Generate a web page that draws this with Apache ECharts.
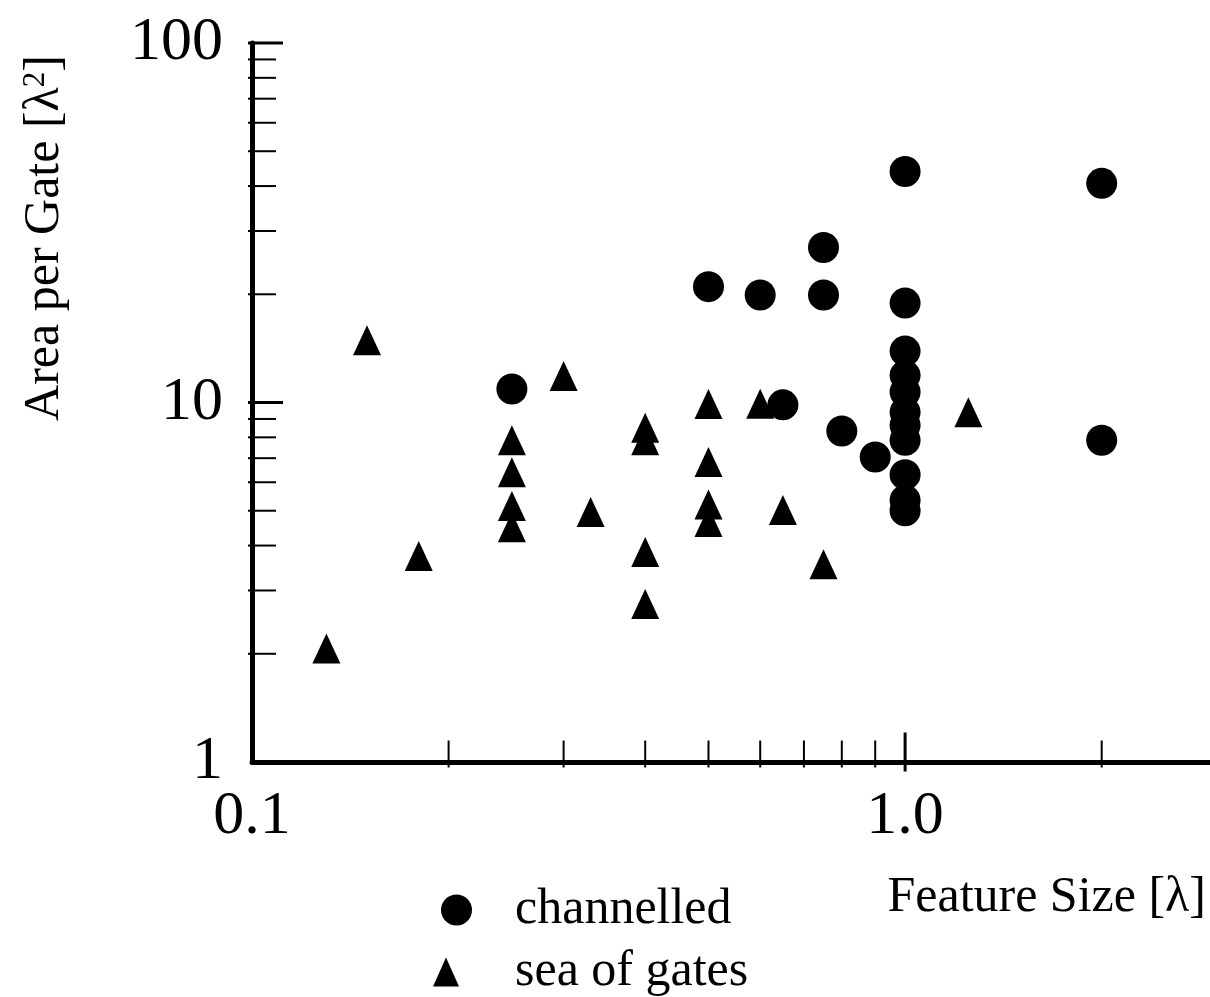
<!DOCTYPE html>
<html>
<head>
<meta charset="utf-8">
<script src="https://cdn.jsdelivr.net/npm/echarts@6/dist/echarts.min.js"></script>
<style>
html,body{margin:0;padding:0;background:#fff;}
#chart{width:1210px;height:997px;}
</style>
</head>
<body>
<div id="chart"></div>
<script>
// ---- data ----
const channelledX = [0.25, 0.5, 0.6, 0.65, 0.75, 0.75, 0.8, 0.9, 1.0, 1.0, 1.0, 1.0, 1.0, 1.0, 1.0, 1.0, 1.0, 1.0, 1.0, 2.0, 2.0];
const channelledY = [10.9, 21.0, 19.9, 9.85, 27.0, 19.9, 8.33, 7.05, 43.9, 18.9, 13.9, 11.9, 10.7, 9.4, 8.65, 7.85, 6.3, 5.35, 5.0, 40.7, 7.85];
const seaX = [0.13, 0.15, 0.18, 0.25, 0.25, 0.25, 0.25, 0.3, 0.33, 0.4, 0.4, 0.4, 0.4, 0.5, 0.5, 0.5, 0.5, 0.6, 0.65, 0.75, 1.25];
const seaY = [2.07, 14.9, 3.74, 7.85, 6.4, 5.15, 4.5, 11.85, 4.96, 8.5, 7.85, 3.84, 2.75, 9.9, 6.83, 5.2, 4.65, 9.92, 5.02, 3.55, 9.4];

const xMinorTicks = [0.2, 0.3, 0.4, 0.5, 0.6, 0.7, 0.8, 0.9, 2];
const xMajorTicks = [1];
const yMinorTicks = [2, 3, 4, 5, 6, 7, 8, 9, 20, 30, 40, 50, 60, 70, 80, 90];
const yMajorTicks = [10, 100];
const xTickLabels = {'0.1': '0.1', '1': '1.0'};
const yTickLabels = {'1': '1', '10': '10', '100': '100'};

const seriesNames = ['channelled', 'sea of gates'];
const xName = 'Feature Size [λ]';
const yName = 'Area per Gate [λ{sup|2}]';

const X_MIN = 0.1, X_MAX = 2.93, Y_MIN = 1, Y_MAX = 100;
const FONT = '"Liberation Serif", "Times New Roman", serif';

const zip = (a, b) => a.map((v, i) => [v, b[i]]);
function labelKey(v) {
  const r = Math.round(v * 1000) / 1000;
  return String(r);
}
const solid = {color: '#000', opacity: 1};

const chart = echarts.init(document.getElementById('chart'), null, {renderer: 'canvas'});
const option = {
  animation: false,
  backgroundColor: '#fff',
  grid: {left: 252, right: 0, top: 43, bottom: 235, containLabel: false},
  xAxis: {
    type: 'log', min: X_MIN, max: X_MAX, logBase: 10,
    axisLine: {show: true, lineStyle: {color: '#000', width: 5}},
    axisTick: {show: false},
    splitLine: {show: false},
    axisLabel: {
      margin: 24, color: '#000', fontFamily: FONT, fontSize: 62,
      showMaxLabel: false,
      formatter: v => xTickLabels[labelKey(v)] || ''
    }
  },
  yAxis: {
    type: 'log', min: Y_MIN, max: Y_MAX, logBase: 10,
    axisLine: {show: true, lineStyle: {color: '#000', width: 5}},
    axisTick: {show: false},
    splitLine: {show: false},
    axisLabel: {
      margin: 29, color: '#000', fontFamily: FONT, fontSize: 62,
      formatter: v => yTickLabels[labelKey(v)] || ''
    }
  },
  legend: [
    {
      data: [{name: seriesNames[0], icon: 'circle', itemStyle: solid}],
      left: 436, top: 880, itemWidth: 31, itemHeight: 31,
      selectedMode: false,
      textStyle: {color: '#000', fontFamily: FONT, fontSize: 50, padding: [0, 0, 0, 38]}
    },
    {
      data: [{name: seriesNames[1], icon: 'triangle', itemStyle: solid}],
      left: 428, top: 942, itemWidth: 26, itemHeight: 29,
      selectedMode: false,
      textStyle: {color: '#000', fontFamily: FONT, fontSize: 50, padding: [0, 0, 0, 51]}
    }
  ],
  graphic: [
    {
      type: 'text', x: 45, y: 238, rotation: Math.PI / 2,
      style: {
        text: yName, fill: '#000', fontFamily: FONT, fontSize: 50,
        align: 'center', verticalAlign: 'middle',
        rich: {sup: {fontSize: 31, fontFamily: FONT, fill: '#000', verticalAlign: 'top', padding: [0, 0, 16, 0]}}
      }
    },
    {
      type: 'text', x: 1206, y: 898,
      style: {text: xName, fill: '#000', fontFamily: FONT, fontSize: 50, align: 'right', verticalAlign: 'middle'}
    }
  ],
  series: [
    {
      name: 'xMinorTicks', type: 'scatter', silent: true, clip: false, z: 1,
      symbol: 'rect', symbolSize: [2, 27], symbolOffset: [0, -8],
      itemStyle: solid,
      data: xMinorTicks.map(v => [v, Y_MIN])
    },
    {
      name: 'xMajorTicks', type: 'scatter', silent: true, clip: false, z: 1,
      symbol: 'rect', symbolSize: [3, 39], symbolOffset: [0, -10],
      itemStyle: solid,
      data: xMajorTicks.map(v => [v, Y_MIN])
    },
    {
      name: 'yMinorTicks', type: 'scatter', silent: true, clip: false, z: 1,
      symbol: 'rect', symbolSize: [28, 2], symbolOffset: [10, 0],
      itemStyle: solid,
      data: yMinorTicks.map(v => [X_MIN, v])
    },
    {
      name: 'yMajorTicks', type: 'scatter', silent: true, clip: false, z: 1,
      symbol: 'rect', symbolSize: [35, 3], symbolOffset: [13.5, 0],
      itemStyle: solid,
      data: yMajorTicks.map(v => [X_MIN, v])
    },
    {
      name: seriesNames[0], type: 'scatter', symbol: 'circle', symbolSize: 31,
      clip: false, z: 3,
      itemStyle: solid,
      data: zip(channelledX, channelledY)
    },
    {
      name: seriesNames[1], type: 'scatter', symbol: 'triangle', symbolSize: [28, 30],
      clip: false, z: 3,
      itemStyle: solid,
      data: zip(seaX, seaY)
    }
  ]
};
chart.setOption(option);
</script>
</body>
</html>
